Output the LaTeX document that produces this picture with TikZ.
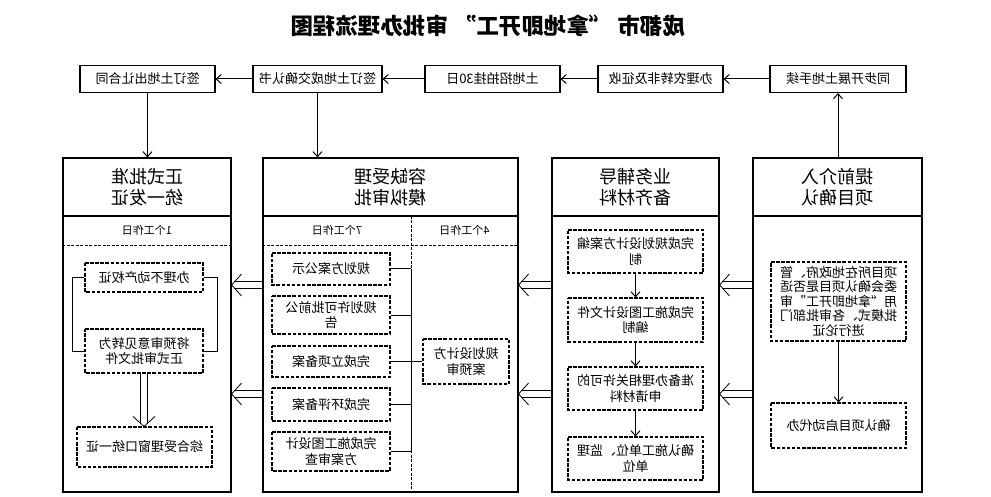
\documentclass[tikz,border=0pt]{standalone}
\usepackage{fontspec}
\setmainfont{Noto Sans CJK SC}
\usetikzlibrary{arrows.meta,calc}
\tikzset{
  colbox/.style={draw, line width=1.2pt, inner sep=0pt, align=center},
  hdr/.style={font=\fontsize{18}{21}\selectfont},
  topbox/.style={draw, line width=1.1pt, inner sep=0pt, minimum height=27pt, font=\fontsize{13}{15}\selectfont},
  inbox/.style={draw, line width=1.1pt, dash pattern=on 3.5pt off 1.6pt, inner sep=0pt, align=center, font=\fontsize{13}{15.5}\selectfont},
  daytext/.style={font=\fontsize{11}{13}\selectfont},
  arr/.style={line width=1pt, -{Straight Barb[length=5pt,width=9pt,line width=1pt]}},
  plain/.style={line width=1pt},
  divline/.style={line width=0.9pt, dash pattern=on 3pt off 1.5pt},
  dblline/.style={double, double distance=6pt, line width=0.8pt},
  dblhead/.style={line width=0.8pt}
}
\newcommand\dblarrow[2]{%
  \draw[dblline] (#1) -- ($(#2)!2pt!(#1)$);
  \draw[dblhead] ($(#2)!14.9pt!47.7:(#1)$) -- (#2) -- ($(#2)!14.9pt!-47.7:(#1)$);
}
\begin{document}
\begin{tikzpicture}[x=-1pt,y=-1pt,xscale=-1,transform shape]
\useasboundingbox (0,0) rectangle (991,497);
\fill[white] (0,0) rectangle (991,497);

% title
\node[font=\fontsize{22.5}{26}\selectfont\bfseries] (title) at (488,26) {成都市\hspace{6pt}“拿地即开工”\hspace{6pt}审批办理流程图};

% top row
\node[topbox, minimum width=135pt] (A) at (147.5,79) {签订土地出让合同};
\node[topbox, minimum width=129pt] (B) at (317.5,79) {签订土地成交确认书};
\node[topbox, minimum width=135pt] (C) at (492.5,79) {土地招拍挂30日};
\node[topbox, minimum width=125pt] (D) at (660.5,79) {办理农转非及征收};
\node[topbox, minimum width=136pt] (E) at (838,79) {同步开展土地手续};
\draw[arr] (E) -- (D);
\draw[arr] (D) -- (C);
\draw[arr] (C) -- (B);
\draw[arr] (B) -- (A);

% columns
\node[colbox, hdr, minimum width=168pt, minimum height=58pt] (c1h) at (147,187) {正式批准\\统一发证};
\node[colbox, minimum width=168pt, minimum height=276pt] (c1b) at (147,354) {};
\node[colbox, hdr, minimum width=255pt, minimum height=58pt] (c2h) at (390.5,187) {容缺受理\\模拟审批};
\node[colbox, minimum width=255pt, minimum height=276pt] (c2b) at (390.5,354) {};
\node[colbox, hdr, minimum width=167pt, minimum height=58pt] (c3h) at (635.5,187) {业务辅导\\备齐材料};
\node[colbox, minimum width=167pt, minimum height=276pt] (c3b) at (635.5,354) {};
\node[colbox, hdr, minimum width=169pt, minimum height=58pt] (c4h) at (837.5,187) {提前介入\\项目确认};
\node[colbox, minimum width=169pt, minimum height=276pt] (c4b) at (837.5,354) {};

\draw[arr] (A.south) -- (A.south |- c1h.north);
\draw[arr] (B.south) -- (B.south |- c2h.north);
\draw[arr] (c4h.north -| E.south) -- (E.south);

% day rows
\coordinate (rowy) at (0,245);
\coordinate (bus) at (411,216);
\draw[divline] (c1b.east |- rowy) -- (c1b.west |- rowy);
\draw[divline] (c2b.east |- rowy) -- (c2b.west |- rowy);
\draw[divline] (bus) -- (bus |- c2b.south);
\node[daytext] (d1) at (147,230) {1个工作日};
\node[daytext] (d7) at (337,230) {7个工作日};
\node[daytext] (d4) at (464.5,230) {4个工作日};

% column 1
\node[inbox, minimum width=118pt, minimum height=29pt] (c1x1) at (144,277.5) {办理不动产权证};
\node[inbox, minimum width=118pt, minimum height=44pt] (c1x2) at (144,351) {将预审意见转为\\正式审批文件};
\node[inbox, minimum width=135pt, minimum height=40pt] (c1x3) at (144.5,447) {综合受理窗口统一证};
\draw[plain] (c1x1.east) -- ++(-12,0) |- (c1x2.east);
\draw[plain] (c1x1.west) -- ++(14,0) |- (c1x2.west);
\dblarrow{c1x2.south}{c1x2.south |- c1x3.north}

% column 2
\node[inbox, minimum width=118pt, minimum height=32pt] (c2x1) at (331,269) {规划方案公示};
\node[inbox, minimum width=118pt, minimum height=38pt] (c2x2) at (331,315) {规划许可批前公\\告};
\node[inbox, minimum width=118pt, minimum height=31pt] (c2x3) at (331,361.5) {完成立项备案};
\node[inbox, minimum width=118pt, minimum height=33pt] (c2x4) at (331,404.5) {完成环评备案};
\node[inbox, minimum width=118pt, minimum height=39pt] (c2x5) at (331,451.5) {完成施工图设计\\方案审查};
\node[inbox, minimum width=86pt, minimum height=45pt] (c2r) at (466,361.5) {规划设计方\\案预审};
\draw[plain] (c2x1.west -| bus) -- (c2x5.west -| bus);
\foreach \n in {c2x1,c2x2,c2x3,c2x4,c2x5}{\draw[plain] (\n.west) -- (\n.west -| bus);}
\draw[plain] (c2r.east) -- (c2r.east -| bus);

% column 3
\node[inbox, minimum width=135pt, minimum height=43pt] (c3x1) at (635.5,251.5) {完成规划设计方案编\\制};
\node[inbox, minimum width=135pt, minimum height=44pt] (c3x2) at (635.5,320) {完成施工图设计文件\\编制};
\node[inbox, minimum width=135pt, minimum height=43pt] (c3x3) at (635.5,388.5) {准备办理相关许可的\\申请材料};
\node[inbox, minimum width=135pt, minimum height=43pt] (c3x4) at (635.5,458.5) {确认施工单位、监理\\单位};
\draw[arr] (c3x1) -- (c3x2);
\draw[arr] (c3x2) -- (c3x3);
\draw[arr] (c3x3) -- (c3x4);

% column 4
\node[inbox, minimum width=135pt, minimum height=79pt, font=\fontsize{13}{14.5}\selectfont] (c4x1) at (838.5,301.5) {项目所在地政府、管\\委会确认项目是否适\\用“拿地即开工”审\\批模式、各审批部门\\进行论证};
\node[inbox, minimum width=135pt, minimum height=45pt] (c4x2) at (838.5,425.5) {确认项目启动代办};
\draw[arr] (c4x1) -- (c4x2);

% double arrows between columns
\coordinate (ya) at (0,285);
\coordinate (yb) at (0,394);
\dblarrow{c2b.east |- ya}{c1b.west |- ya}
\dblarrow{c2b.east |- yb}{c1b.west |- yb}
\dblarrow{c3b.east |- ya}{c2b.west |- ya}
\dblarrow{c3b.east |- yb}{c2b.west |- yb}
\dblarrow{c4b.east |- ya}{c3b.west |- ya}
\dblarrow{c4b.east |- yb}{c3b.west |- yb}
\end{tikzpicture}
\end{document}
